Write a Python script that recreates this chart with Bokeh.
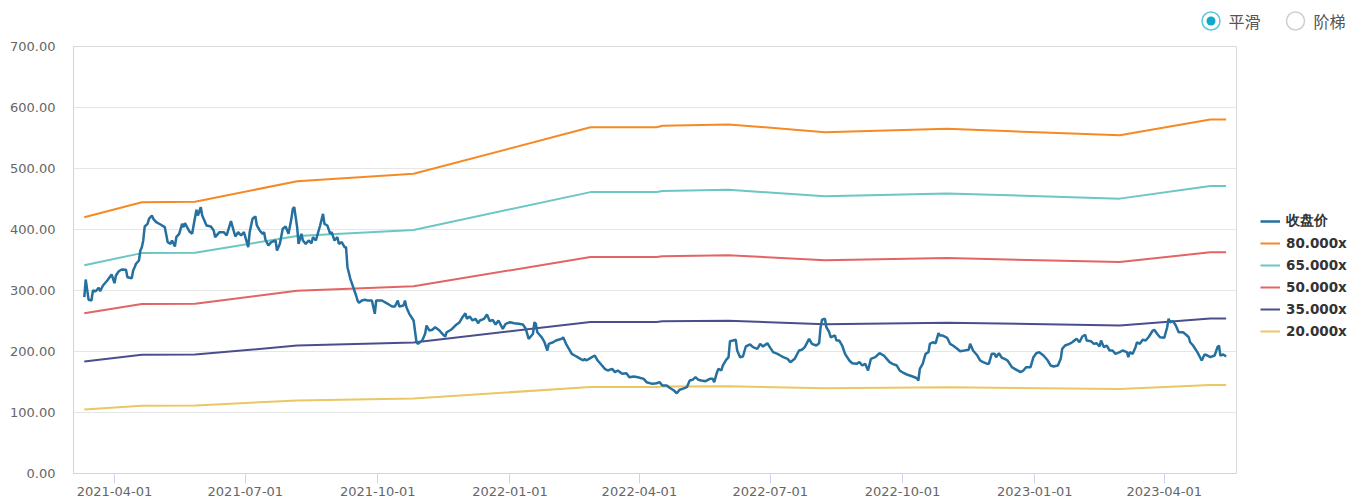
import pandas as pd
from bokeh.plotting import figure
from bokeh.layouts import column, row
from bokeh.models import (Range1d, FixedTicker, NumeralTickFormatter, DatetimeTickFormatter,
                          Legend, LegendItem)
from bokeh.core.properties import value
from bokeh.embed import file_html
from bokeh.resources import INLINE

# ---------------- data ----------------
close_dates = [
    "2021-03-11", "2021-03-12", "2021-03-14", "2021-03-16", "2021-03-17", "2021-03-19", "2021-03-21", "2021-03-22",
    "2021-03-24", "2021-03-27", "2021-03-29", "2021-03-30", "2021-04-01", "2021-04-02", "2021-04-04", "2021-04-06",
    "2021-04-09", "2021-04-10", "2021-04-13", "2021-04-14", "2021-04-15", "2021-04-16", "2021-04-18", "2021-04-19",
    "2021-04-20", "2021-04-21", "2021-04-22", "2021-04-24", "2021-04-25", "2021-04-27", "2021-04-28", "2021-04-30",
    "2021-05-03", "2021-05-06", "2021-05-08", "2021-05-10", "2021-05-11", "2021-05-13", "2021-05-14", "2021-05-16",
    "2021-05-18", "2021-05-19", "2021-05-20", "2021-05-23", "2021-05-25", "2021-05-26", "2021-05-28", "2021-05-29",
    "2021-05-31", "2021-06-01", "2021-06-04", "2021-06-07", "2021-06-09", "2021-06-10", "2021-06-13", "2021-06-16",
    "2021-06-18", "2021-06-21", "2021-06-24", "2021-06-26", "2021-06-28", "2021-06-30", "2021-07-03", "2021-07-04",
    "2021-07-06", "2021-07-08", "2021-07-09", "2021-07-11", "2021-07-13", "2021-07-14", "2021-07-15", "2021-07-17",
    "2021-07-19", "2021-07-22", "2021-07-23", "2021-07-25", "2021-07-27", "2021-07-29", "2021-07-31", "2021-08-02",
    "2021-08-03", "2021-08-04", "2021-08-06", "2021-08-07", "2021-08-09", "2021-08-10", "2021-08-12", "2021-08-14",
    "2021-08-16", "2021-08-17", "2021-08-19", "2021-08-22", "2021-08-24", "2021-08-25", "2021-08-27", "2021-08-29",
    "2021-08-30", "2021-09-01", "2021-09-03", "2021-09-04", "2021-09-06", "2021-09-08", "2021-09-09", "2021-09-10",
    "2021-09-12", "2021-09-14", "2021-09-16", "2021-09-17", "2021-09-18", "2021-09-20", "2021-09-22", "2021-09-24",
    "2021-09-27", "2021-09-29", "2021-09-30", "2021-10-02", "2021-10-04", "2021-10-06", "2021-10-08", "2021-10-11",
    "2021-10-13", "2021-10-15", "2021-10-16", "2021-10-19", "2021-10-20", "2021-10-21", "2021-10-23", "2021-10-26",
    "2021-10-28", "2021-10-29", "2021-11-01", "2021-11-03", "2021-11-04", "2021-11-06", "2021-11-08", "2021-11-10",
    "2021-11-13", "2021-11-15", "2021-11-17", "2021-11-18", "2021-11-21", "2021-11-24", "2021-11-27", "2021-11-29",
    "2021-12-01", "2021-12-02", "2021-12-04", "2021-12-06", "2021-12-08", "2021-12-10", "2021-12-11", "2021-12-14",
    "2021-12-16", "2021-12-18", "2021-12-20", "2021-12-22", "2021-12-24", "2021-12-27", "2021-12-29", "2022-01-01",
    "2022-01-04", "2022-01-07", "2022-01-10", "2022-01-12", "2022-01-14", "2022-01-15", "2022-01-17", "2022-01-18",
    "2022-01-19", "2022-01-20", "2022-01-23", "2022-01-25", "2022-01-27", "2022-01-28", "2022-01-31", "2022-02-02",
    "2022-02-06", "2022-02-07", "2022-02-09", "2022-02-11", "2022-02-13", "2022-02-15", "2022-02-17", "2022-02-19",
    "2022-02-21", "2022-02-22", "2022-02-23", "2022-02-25", "2022-02-27", "2022-03-01", "2022-03-03", "2022-03-06",
    "2022-03-08", "2022-03-10", "2022-03-13", "2022-03-15", "2022-03-17", "2022-03-20", "2022-03-23", "2022-03-25",
    "2022-03-28", "2022-03-31", "2022-04-04", "2022-04-06", "2022-04-10", "2022-04-13", "2022-04-15", "2022-04-17",
    "2022-04-20", "2022-04-22", "2022-04-25", "2022-04-27", "2022-04-29", "2022-05-01", "2022-05-04", "2022-05-06",
    "2022-05-08", "2022-05-10", "2022-05-12", "2022-05-14", "2022-05-17", "2022-05-20", "2022-05-22", "2022-05-23",
    "2022-05-25", "2022-05-26", "2022-05-28", "2022-05-29", "2022-05-31", "2022-06-02", "2022-06-03", "2022-06-05",
    "2022-06-07", "2022-06-08", "2022-06-10", "2022-06-12", "2022-06-14", "2022-06-17", "2022-06-19", "2022-06-22",
    "2022-06-24", "2022-06-26", "2022-06-29", "2022-07-01", "2022-07-03", "2022-07-06", "2022-07-08", "2022-07-10",
    "2022-07-13", "2022-07-15", "2022-07-18", "2022-07-21", "2022-07-23", "2022-07-25", "2022-07-28", "2022-07-30",
    "2022-08-02", "2022-08-04", "2022-08-05", "2022-08-06", "2022-08-08", "2022-08-09", "2022-08-11", "2022-08-12",
    "2022-08-15", "2022-08-16", "2022-08-18", "2022-08-20", "2022-08-22", "2022-08-25", "2022-08-27", "2022-08-30",
    "2022-09-01", "2022-09-03", "2022-09-05", "2022-09-07", "2022-09-09", "2022-09-12", "2022-09-15", "2022-09-18",
    "2022-09-20", "2022-09-22", "2022-09-24", "2022-09-27", "2022-09-29", "2022-10-02", "2022-10-04", "2022-10-06",
    "2022-10-08", "2022-10-11", "2022-10-12", "2022-10-13", "2022-10-15", "2022-10-17", "2022-10-19", "2022-10-20",
    "2022-10-22", "2022-10-24", "2022-10-26", "2022-10-27", "2022-10-29", "2022-11-01", "2022-11-03", "2022-11-05",
    "2022-11-08", "2022-11-10", "2022-11-13", "2022-11-16", "2022-11-17", "2022-11-19", "2022-11-22", "2022-11-24",
    "2022-11-26", "2022-11-29", "2022-11-30", "2022-12-02", "2022-12-04", "2022-12-05", "2022-12-07", "2022-12-09",
    "2022-12-11", "2022-12-13", "2022-12-16", "2022-12-18", "2022-12-22", "2022-12-24", "2022-12-26", "2022-12-29",
    "2022-12-31", "2023-01-02", "2023-01-04", "2023-01-07", "2023-01-10", "2023-01-12", "2023-01-14", "2023-01-17",
    "2023-01-19", "2023-01-20", "2023-01-22", "2023-01-25", "2023-01-27", "2023-01-30", "2023-02-01", "2023-02-03",
    "2023-02-05", "2023-02-06", "2023-02-09", "2023-02-11", "2023-02-13", "2023-02-15", "2023-02-16", "2023-02-18",
    "2023-02-20", "2023-02-22", "2023-02-24", "2023-02-26", "2023-03-01", "2023-03-03", "2023-03-06", "2023-03-07",
    "2023-03-08", "2023-03-10", "2023-03-12", "2023-03-13", "2023-03-15", "2023-03-17", "2023-03-19", "2023-03-21",
    "2023-03-24", "2023-03-25", "2023-03-27", "2023-03-29", "2023-04-01", "2023-04-03", "2023-04-04", "2023-04-05",
    "2023-04-07", "2023-04-09", "2023-04-11", "2023-04-14", "2023-04-16", "2023-04-18", "2023-04-19", "2023-04-21",
    "2023-04-24", "2023-04-26", "2023-04-27", "2023-04-29", "2023-05-01", "2023-05-03", "2023-05-06", "2023-05-08",
    "2023-05-09", "2023-05-10", "2023-05-12", "2023-05-14",
]
close_values = [
    289.0, 318.0, 284.7, 283.6, 300.0, 298.8, 304.4, 298.8,
    308.2, 316.4, 322.9, 326.2, 312.0, 324.6, 331.6, 334.4,
    333.9, 321.8, 320.2, 332.8, 338.2, 343.8, 349.2, 365.6,
    371.0, 382.0, 404.9, 409.3, 417.5, 422.9, 417.5, 412.0,
    408.2, 403.8, 379.2, 376.5, 382.0, 372.1, 387.4, 392.9,
    409.3, 403.8, 410.3, 397.2, 392.9, 406.6, 432.3, 422.9,
    436.6, 422.9, 406.6, 404.9, 398.4, 387.4, 395.6, 395.6,
    390.2, 413.6, 388.5, 395.6, 390.2, 395.6, 371.0, 395.6,
    417.5, 421.3, 406.6, 398.4, 392.9, 395.6, 383.1, 373.8,
    379.2, 382.0, 365.6, 376.5, 401.1, 404.9, 392.9, 417.5,
    433.9, 436.6, 403.8, 376.5, 392.9, 382.0, 376.5, 382.0,
    377.5, 387.4, 382.0, 406.6, 425.7, 409.3, 406.6, 392.9,
    395.6, 382.0, 387.4, 376.5, 379.2, 371.0, 371.0, 338.2,
    319.2, 305.4, 291.8, 283.6, 279.8, 283.6, 284.7, 283.6,
    283.6, 261.8, 283.6, 283.6, 283.6, 280.8, 278.2, 273.8,
    273.8, 283.6, 273.8, 275.4, 283.6, 272.6, 261.8, 250.8,
    215.2, 212.6, 218.0, 229.0, 242.6, 234.4, 235.6, 239.8,
    234.4, 229.0, 224.6, 231.6, 235.6, 242.6, 248.0, 256.2,
    262.8, 253.6, 257.4, 250.8, 253.6, 246.4, 250.8, 253.6,
    260.7, 249.7, 252.0, 244.3, 250.8, 237.2, 245.4, 248.0,
    246.4, 245.4, 244.3, 237.2, 220.8, 223.4, 229.0, 248.0,
    245.4, 231.6, 223.4, 215.2, 201.6, 212.6, 215.2, 218.0,
    220.8, 223.4, 212.6, 204.4, 196.2, 193.4, 190.7, 188.0,
    185.2, 188.0, 185.2, 188.0, 190.7, 193.4, 185.2, 177.0,
    171.6, 168.9, 171.6, 166.1, 168.9, 163.4, 164.4, 157.9,
    159.0, 157.9, 155.2, 149.7, 147.0, 148.0, 149.7, 144.3,
    144.3, 140.5, 136.1, 131.6, 137.2, 138.8, 141.5, 152.5,
    153.6, 157.9, 153.6, 152.5, 151.3, 155.2, 155.2, 149.7,
    166.1, 171.6, 168.9, 177.0, 185.2, 190.7, 216.9, 218.0,
    219.2, 201.6, 190.7, 191.8, 208.2, 211.5, 207.1, 204.4,
    212.6, 208.2, 213.6, 206.0, 198.9, 196.2, 193.4, 190.7,
    188.0, 182.5, 188.0, 201.6, 202.8, 207.1, 220.8, 212.6,
    209.8, 213.6, 239.8, 252.0, 253.6, 239.8, 231.6, 223.4,
    226.2, 218.0, 218.0, 209.8, 196.2, 185.2, 180.8, 179.8,
    182.5, 177.0, 179.8, 168.9, 188.0, 190.7, 197.2, 193.4,
    188.0, 182.5, 179.8, 177.0, 168.9, 164.4, 162.3, 160.7,
    159.0, 156.2, 152.5, 171.6, 179.8, 196.2, 198.9, 212.6,
    215.2, 213.6, 230.0, 226.2, 226.2, 222.5, 212.6, 209.8,
    204.4, 200.5, 201.6, 202.8, 212.6, 201.6, 193.4, 185.2,
    182.5, 179.8, 179.8, 196.2, 196.2, 190.7, 197.2, 189.7,
    188.0, 185.2, 174.3, 171.6, 166.1, 168.9, 174.3, 174.3,
    190.7, 197.2, 198.9, 193.4, 185.2, 177.0, 175.4, 177.0,
    188.0, 204.4, 209.8, 212.6, 215.2, 220.8, 215.2, 224.6,
    227.4, 218.0, 216.9, 212.6, 213.6, 208.2, 218.0, 207.1,
    209.8, 201.6, 201.6, 196.2, 198.9, 201.6, 198.9, 190.7,
    198.9, 196.2, 207.1, 215.2, 212.6, 219.2, 218.0, 223.4,
    234.4, 235.6, 229.0, 223.4, 222.5, 239.8, 253.6, 248.0,
    249.7, 242.6, 231.6, 231.6, 227.9, 223.4, 215.2, 209.8,
    198.9, 189.7, 185.2, 195.1, 193.4, 190.7, 193.4, 207.1,
    209.8, 193.4, 195.1, 191.8,
]

band_dates = ["2021-03-11", "2021-04-20", "2021-05-27", "2021-08-06", "2021-10-26", "2022-02-26", "2022-04-13",
              "2022-04-17", "2022-06-02", "2022-08-08", "2022-11-01", "2023-03-01", "2023-05-03", "2023-05-14"]
band_80x = [420.2, 444.7, 445.5, 479.2, 491.3, 567.7, 567.7, 570.0, 572.3, 559.5, 565.0, 554.6, 580.3, 580.3]
band_65x = [341.4, 361.3, 362.0, 389.4, 399.2, 461.3, 461.3, 463.1, 465.0, 454.6, 459.1, 450.6, 471.5, 471.5]
band_50x = [262.6, 277.9, 278.4, 299.5, 307.1, 354.8, 354.8, 356.3, 357.7, 349.7, 353.1, 346.6, 362.7, 362.7]
band_35x = [183.8, 194.6, 194.9, 209.7, 214.9, 248.4, 248.4, 249.4, 250.4, 244.8, 247.2, 242.6, 253.9, 253.9]
band_20x = [105.1, 111.2, 111.4, 119.8, 122.8, 141.9, 141.9, 142.5, 143.1, 139.9, 141.3, 138.7, 145.1, 145.1]

series_names = ["收盘价", "80.000x", "65.000x", "50.000x", "35.000x", "20.000x"]
x_tick_labels = ["2021-04-01", "2021-07-01", "2021-10-01", "2022-01-01", "2022-04-01",
                 "2022-07-01", "2022-10-01", "2023-01-01", "2023-04-01"]
y_tick_values = [0, 100, 200, 300, 400, 500, 600, 700]
mode_labels = ["平滑", "阶梯"]

# ---------------- styling ----------------
AXIS_FONT = "DejaVu Sans"
PRICE_COLOR = "#25709f"
band_colors = ["#f58a25", "#6cc6c4", "#e26464", "#4b4e8c", "#eac762"]

# ---------------- main chart ----------------
p = figure(width=1237, height=465, x_axis_type="datetime",
           x_range=Range1d(pd.Timestamp("2021-03-03 12:00"), pd.Timestamp("2023-05-21 05:00")),
           y_range=Range1d(0, 700),
           output_backend="svg", toolbar_location=None,
           min_border_left=73, min_border_right=1, min_border_top=8, min_border_bottom=30)
p.background_fill_color = "white"
p.border_fill_color = "white"
p.outline_line_color = "#d9d9d9"

bd = pd.to_datetime(band_dates)
band_values = [band_80x, band_65x, band_50x, band_35x, band_20x]
for vals, col in zip(band_values, band_colors):
    p.line(bd, vals, line_color=col, line_width=2)
p.line(pd.to_datetime(close_dates), close_values, line_color=PRICE_COLOR, line_width=2.5)

xa = p.xaxis[0]
xa.ticker = FixedTicker(ticks=[pd.Timestamp(s).timestamp() * 1000 for s in x_tick_labels])
fmt = "%Y-%m-%d"
xa.formatter = DatetimeTickFormatter(years=fmt, months=fmt, days=fmt, hours=fmt, hourmin=fmt,
                                     minutes=fmt, minsec=fmt, seconds=fmt, milliseconds=fmt,
                                     microseconds=fmt)
xa.axis_line_color = "#ccd6eb"
xa.major_tick_line_color = "#ccd6eb"
xa.major_tick_out = 10
xa.major_tick_in = 0
xa.minor_tick_line_color = None
xa.major_label_standoff = 3
xa.major_label_text_font = AXIS_FONT
xa.major_label_text_font_size = "13px"
xa.major_label_text_color = "#666666"

ya = p.yaxis[0]
ya.ticker = FixedTicker(ticks=y_tick_values)
ya.formatter = NumeralTickFormatter(format="0.00")
ya.axis_line_color = "#ccd6eb"
ya.major_tick_line_color = None
ya.minor_tick_line_color = None
ya.major_tick_out = 0
ya.major_tick_in = 0
ya.major_label_standoff = 18
ya.major_label_text_font = AXIS_FONT
ya.major_label_text_font_size = "13px"
ya.major_label_text_color = "#666666"

p.xgrid.grid_line_color = None
p.ygrid.grid_line_color = "#e6e6e6"

# ---------------- legend panel (right) ----------------
lg = figure(width=128, height=465, x_range=Range1d(0, 1), y_range=Range1d(0, 1),
            output_backend="svg", toolbar_location=None,
            x_axis_location=None, y_axis_location=None,
            min_border=0, min_border_left=0, min_border_right=0, min_border_top=0, min_border_bottom=0)
lg.outline_line_color = None
lg.grid.visible = False
lg.border_fill_color = "white"
legend_colors = [PRICE_COLOR] + band_colors
legend_widths = [2.5, 2, 2, 2, 2, 2]
items = []
for name, col, lw in zip(series_names, legend_colors, legend_widths):
    # off-screen stand-in renderer so the legend can draw its swatch
    r = lg.line(x=[-5, -4], y=[-5, -4], line_color=col, line_width=lw)
    items.append(LegendItem(label=name, renderers=[r]))
legend = Legend(items=items, location=(23, 133), orientation="vertical",
                padding=0, margin=0, spacing=4, glyph_width=20, glyph_height=18,
                label_height=18, label_standoff=6,
                label_text_font=AXIS_FONT, label_text_font_size="13.5px",
                label_text_font_style="bold", label_text_color="#333333",
                border_line_color=None, background_fill_alpha=0)
lg.add_layout(legend, "center")

# ---------------- mode selector strip (top) ----------------
top = figure(width=1365, height=38, x_range=Range1d(0, 1365), y_range=Range1d(0, 38),
             output_backend="svg", toolbar_location=None,
             x_axis_location=None, y_axis_location=None,
             min_border=0, min_border_left=0, min_border_right=0, min_border_top=0, min_border_bottom=0)
top.outline_line_color = None
top.grid.visible = False
radio_x = [1210.5, 1295]
radio_y = [17.5, 17.5]
top.scatter(radio_x[:1], radio_y[:1], marker="circle", size=18, fill_color="white",
            line_color="#5cc8dd", line_width=1.5)
top.scatter(radio_x[:1], radio_y[:1], marker="circle", size=9, fill_color="#0fa9cb",
            line_color=None)
top.scatter(radio_x[1:], radio_y[1:], marker="circle", size=18, fill_color="white",
            line_color="#cfcfcf", line_width=1.5)
top.text(x=[1228, 1313], y=[17.5, 17.5], text=mode_labels,
         text_font=value("Noto Sans CJK SC"), text_font_size="16px",
         text_color="#555555", text_baseline="middle", text_align="left")

layout = column(top, row(p, lg, spacing=0), spacing=0)
open("out.html", "w").write(file_html(layout, INLINE))
